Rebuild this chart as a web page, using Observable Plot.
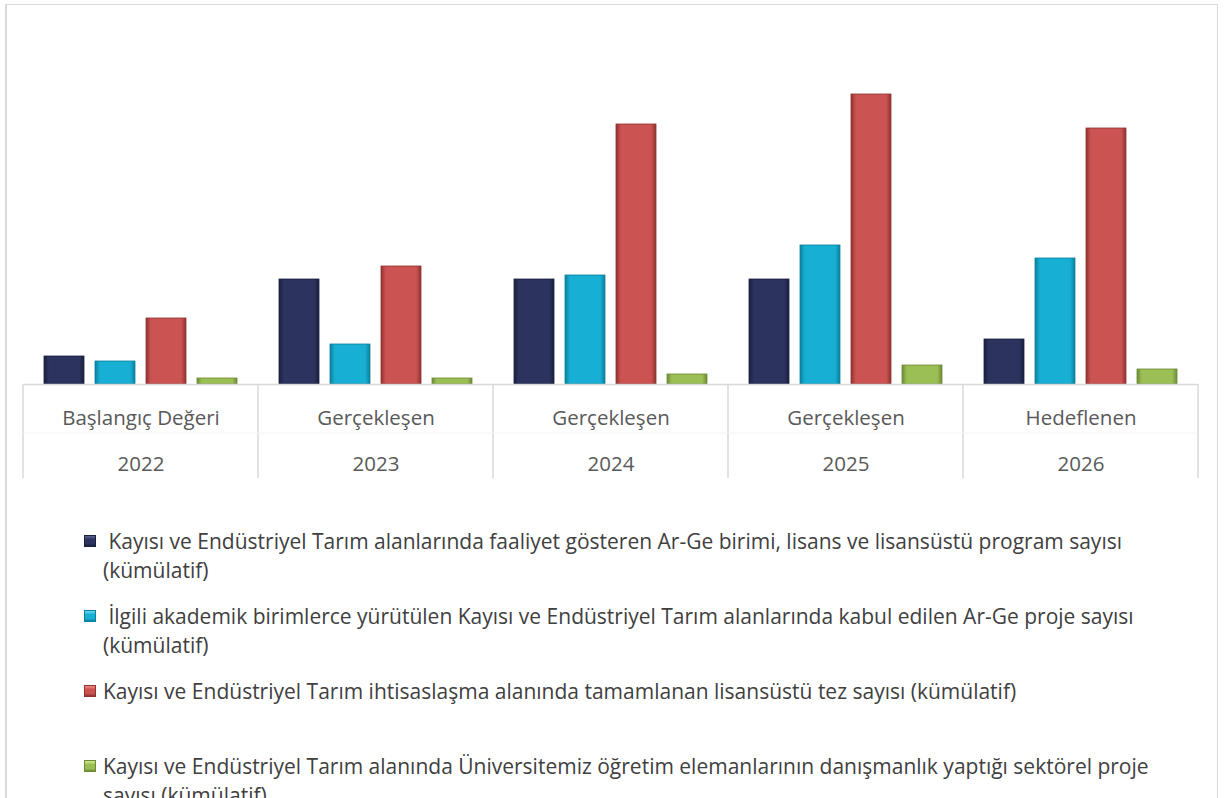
<!DOCTYPE html>
<html>
<head>
<meta charset="utf-8">
<script src="https://cdn.jsdelivr.net/npm/d3@7"></script>
<script src="https://cdn.jsdelivr.net/npm/@observablehq/plot@0.6"></script>
<style>
  html, body { margin: 0; padding: 0; background: #fff; overflow: hidden; width: 1227px; height: 798px; }
  #frame { position: absolute; left: 5px; top: 4px; width: 1213px; height: 820px; border: 1px solid #d9d9d9; border-left-width: 2px; box-sizing: border-box; }
  #chart { position: absolute; left: 0; top: 0; }
  #legend { position: absolute; left: 0; top: 0; width: 1227px; font-family: "Open Sans", sans-serif; color: #404040; }
  .mk { position: absolute; left: 84px; width: 12px; height: 12px; box-sizing: border-box; }
  .tx { position: absolute; left: 103px; white-space: nowrap; font-size: 21px; line-height: 29px; }
</style>
</head>
<body>
<div id="frame"></div>
<div id="chart"></div>
<div id="legend"></div>
<script>
const years = ["2022", "2023", "2024", "2025", "2026"];
const stages = ["Başlangıç Değeri", "Gerçekleşen", "Gerçekleşen", "Gerçekleşen", "Hedeflenen"];
const seriesKeys = ["s1", "s2", "s3", "s4"];
const seriesLines = [
  [" Kayısı ve Endüstriyel Tarım alanlarında faaliyet gösteren Ar-Ge birimi, lisans ve lisansüstü program sayısı", "(kümülatif)"],
  [" İlgili akademik birimlerce yürütülen Kayısı ve Endüstriyel Tarım alanlarında kabul edilen Ar-Ge proje sayısı", "(kümülatif)"],
  ["Kayısı ve Endüstriyel Tarım ihtisaslaşma alanında tamamlanan lisansüstü tez sayısı (kümülatif)"],
  ["Kayısı ve Endüstriyel Tarım alanında Üniversitemiz öğretim elemanlarının danışmanlık yaptığı sektörel proje", "sayısı (kümülatif)"]
];
const arge = [2.8, 10.5, 10.5, 10.5, 4.5];
const projeler = [2.3, 4.0, 10.9, 13.9, 12.6];
const tezler = [6.6, 11.8, 26.0, 29.0, 25.6];
const sektorel = [0.6, 0.6, 1.0, 1.9, 1.5];
const colors = ["#2b335e", "#17afd3", "#cb5352", "#9bbf55"];
const darks = ["#1a2040", "#0d7f9c", "#8f3331", "#6c8a36"];
const lights = ["#5d6794", "#6fdcf3", "#f08a88", "#d4ef8e"];

const values = [arge, projeler, tezler, sektorel];
const data = years.flatMap((y, i) => seriesKeys.map((s, j) => ({year: y, series: s, value: values[j][i]})));
const labels = years.map((y, i) => ({year: y, stage: stages[i]}));

const plot = Plot.plot({
  width: 1227,
  height: 480,
  marginTop: 64,
  marginBottom: 96,
  marginLeft: 23,
  marginRight: 29,
  style: {fontFamily: "'Open Sans', sans-serif", background: "transparent"},
  fx: {domain: years, padding: 0, axis: null},
  x: {domain: seriesKeys, paddingInner: 0.22, paddingOuter: 0.41, axis: null},
  y: {domain: [0, 32], axis: null},
  color: {domain: seriesKeys, range: seriesKeys.map((s, j) => `url(#grad${j})`)},
  marks: [
    Plot.barY(data, {fx: "year", x: "series", y: "value", fill: "series", stroke: "series", strokeWidth: 0.8}),
    Plot.ruleY([0], {stroke: "#d9d9d9", strokeWidth: 1.5}),
    Plot.text(labels, {fx: "year", text: "stage", frameAnchor: "bottom", dy: 34, lineAnchor: "middle", fontSize: 20.5, fill: "#595959"}),
    Plot.text(labels, {fx: "year", text: "year", frameAnchor: "bottom", dy: 80, lineAnchor: "middle", fontSize: 20.5, fill: "#595959"})
  ]
});

// gradients for bevel-like look
const svg = d3.select(plot);
const defs = svg.insert("defs", ":first-child");
colors.forEach((c, j) => {
  const g = defs.append("linearGradient").attr("id", `grad${j}`).attr("x1", 0).attr("x2", 1).attr("y1", 0).attr("y2", 0);
  g.append("stop").attr("offset", "0%").attr("stop-color", darks[j]);
  g.append("stop").attr("offset", "12%").attr("stop-color", c);
  g.append("stop").attr("offset", "88%").attr("stop-color", c);
  g.append("stop").attr("offset", "100%").attr("stop-color", darks[j]);
});
svg.selectAll("rect").each(function() {
  const s = this.getAttribute("stroke");
  if (s && s.startsWith("url(#grad")) {
    const j = +s.match(/grad(\d)/)[1];
    this.setAttribute("stroke", darks[j]);
  }
});

// category separators from the library's scales
const fx = plot.scale("fx");
const yS = plot.scale("y");
const base = yS.apply(0);
const bw = fx.bandwidth;
const edges = years.map(y => fx.apply(y)).concat([fx.apply(years[years.length - 1]) + bw]);
const sep = svg.append("g");
edges.forEach(x => {
  sep.append("line").attr("x1", x).attr("x2", x).attr("y1", base).attr("y2", base + 94)
    .attr("stroke", "#d9d9d9").attr("stroke-width", 1.5);
});
sep.append("line").attr("x1", edges[0]).attr("x2", edges[edges.length - 1]).attr("y1", base + 49).attr("y2", base + 49)
  .attr("stroke", "#f4f4f4").attr("stroke-width", 1);

document.getElementById("chart").appendChild(plot);

// legend
const legend = document.getElementById("legend");
seriesLines.forEach((lines, j) => {
  const center = 541 + 75 * j;
  const mk = document.createElement("div");
  mk.className = "mk";
  mk.style.top = (center - 6) + "px";
  mk.style.background = `linear-gradient(180deg, ${lights[j]} 0%, ${colors[j]} 35%, ${colors[j]} 75%, ${darks[j]} 100%)`;
  mk.style.border = `1px solid ${darks[j]}`;
  legend.appendChild(mk);
  const tx = document.createElement("div");
  tx.className = "tx";
  tx.style.top = (center - 14.5) + "px";
  tx.innerHTML = lines.map(l => l.replace(/^ /, "&nbsp;")).join("<br>");
  legend.appendChild(tx);
});
</script>
</body>
</html>
